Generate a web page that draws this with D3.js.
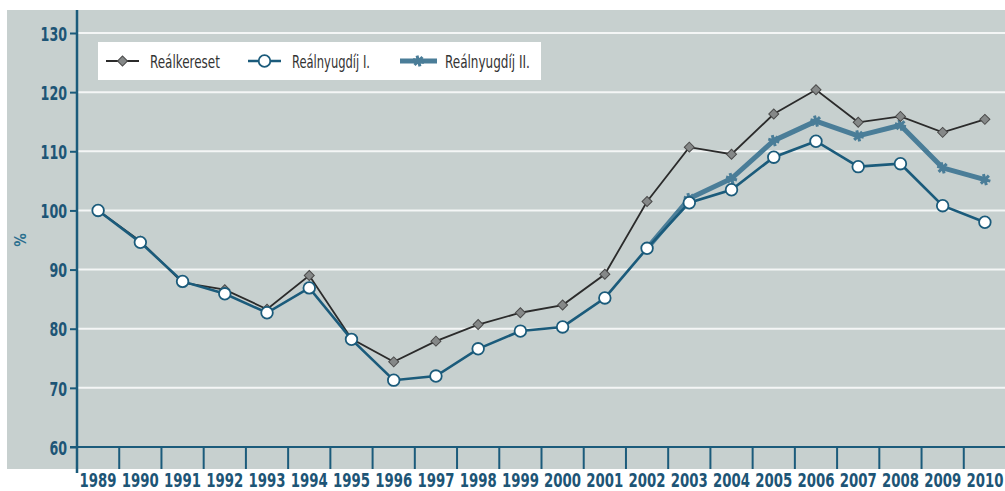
<!DOCTYPE html>
<html><head><meta charset="utf-8">
<script src="https://cdn.jsdelivr.net/npm/d3@7"></script>
<style>
html,body{margin:0;padding:0;background:#fff;}
svg{display:block;}
text{font-family:"DejaVu Sans Condensed","DejaVu Sans",sans-serif;}
</style></head>
<body><svg id="c" width="1005" height="491"></svg>
<script>
const years = ["1989","1990","1991","1992","1993","1994","1995","1996","1997","1998","1999","2000","2001","2002","2003","2004","2005","2006","2007","2008","2009","2010"];
const realkereset = [100,94.8,87.8,86.6,83.3,89.0,78.3,74.4,77.9,80.7,82.7,84.0,89.2,101.5,110.7,109.5,116.3,120.4,114.9,115.9,113.2,115.4];
const realnyugdij1 = [100,94.6,88.0,85.9,82.7,86.9,78.2,71.3,72.0,76.6,79.6,80.3,85.2,93.6,101.3,103.5,109.0,111.7,107.4,107.9,100.8,98.0];
const realnyugdij2Years = ["2002","2003","2004","2005","2006","2007","2008","2009","2010"];
const realnyugdij2 = [93.6,102.0,105.4,111.8,115.1,112.6,114.4,107.2,105.2];
const yTicks = [60,70,80,90,100,110,120,130];
const seriesNames = ["Reálkereset","Reálnyugdíj I.","Reálnyugdíj II."];

const svg = d3.select("#c");
const teal = "#1b5b7b", tealText = "#1d5576", thick = "#4a7d98", dark = "#2b2b2b";

// squeeze a text horizontally to a target width, keeping it anchored
function squeeze(sel, target, tx, ty){
  sel.each(function(d,i){
    const t = d3.select(this);
    const w = this.getComputedTextLength();
    const tw = typeof target === "function" ? target(d,i) : target;
    const s = Math.min(1, tw / w);
    const X = typeof tx === "function" ? tx(d,i) : tx;
    t.attr("x",0).attr("y",0).attr("transform",`translate(${X},${ty}) scale(${s},1)`);
  });
}

svg.append("rect").attr("x",7).attr("y",10).attr("width",998).attr("height",459).attr("fill","#c7d0cf");

const x = d3.scaleBand().domain(years).range([77,1006]).padding(0);
const y = d3.scaleLinear().domain([60,130]).range([447,33]);

// gridlines
svg.append("g").selectAll("line").data(yTicks.filter(d=>d>60)).join("line")
  .attr("x1",78).attr("x2",1005).attr("y1",d=>y(d)).attr("y2",d=>y(d))
  .attr("stroke","#f4f6f6").attr("stroke-width",2);

// y axis
const yAxis = svg.append("g").attr("transform","translate(77,0)")
  .call(d3.axisLeft(y).tickValues(yTicks).tickSize(7).tickPadding(3).tickFormat(d3.format("d")));
yAxis.select(".domain").remove();
yAxis.selectAll(".tick line").attr("stroke",teal).attr("stroke-width",2);
const yt = yAxis.selectAll(".tick text").attr("fill",tealText).attr("font-size",20).attr("font-weight","bold")
  .attr("dy","0.36em");
squeeze(yt, d=>String(d).length*8.8, -10, 0);
svg.append("line").attr("x1",77).attr("x2",77).attr("y1",10).attr("y2",473).attr("stroke",teal).attr("stroke-width",2.5);

// x axis
svg.append("line").attr("x1",70).attr("x2",1005).attr("y1",447).attr("y2",447).attr("stroke",teal).attr("stroke-width",2);
const xAxis = svg.append("g").attr("transform","translate(0,447)")
  .call(d3.axisBottom(x).tickSize(0).tickPadding(0));
xAxis.select(".domain").remove();
const xt = xAxis.selectAll(".tick text").attr("fill",tealText).attr("font-size",19.5).attr("font-weight","bold")
  .attr("dy",0);
squeeze(xt, 37, 0, 39.5);
svg.append("g").selectAll("line").data(years.slice(1)).join("line")
  .attr("x1",d=>x(d)).attr("x2",d=>x(d)).attr("y1",447).attr("y2",469)
  .attr("stroke",teal).attr("stroke-width",2);

// % label
svg.append("text").attr("transform","translate(26,240) rotate(-90)").attr("text-anchor","middle")
  .attr("fill","#2a6f8e").attr("font-size",15).attr("font-weight","bold").text("%");

const cx = d => x(d) + x.bandwidth()/2;
const line = d3.line().x(d=>cx(d[0])).y(d=>y(d[1]));

const d1 = years.map((yr,i)=>[yr,realkereset[i]]);
const d2 = years.map((yr,i)=>[yr,realnyugdij1[i]]);
const d3s = realnyugdij2Years.map((yr,i)=>[yr,realnyugdij2[i]]);

const star = d3.symbol(d3.symbolAsterisk,90);
const diamond = d3.symbol(d3.symbolSquare,50);

// series II
svg.append("path").datum(d3s).attr("d",line).attr("fill","none").attr("stroke",thick).attr("stroke-width",5).attr("stroke-linejoin","round");
svg.append("g").selectAll("path").data(d3s).join("path")
  .attr("transform",d=>`translate(${cx(d[0])},${y(d[1])}) rotate(45)`).attr("d",star)
  .attr("fill","none").attr("stroke",thick).attr("stroke-width",3);

// Reálkereset
svg.append("path").datum(d1).attr("d",line).attr("fill","none").attr("stroke",dark).attr("stroke-width",1.8);
svg.append("g").selectAll("path").data(d1).join("path")
  .attr("transform",d=>`translate(${cx(d[0])},${y(d[1])}) rotate(45)`).attr("d",diamond)
  .attr("fill","#858888").attr("stroke","#4a4a4a").attr("stroke-width",1);

// Reálnyugdíj I
svg.append("path").datum(d2).attr("d",line).attr("fill","none").attr("stroke",teal).attr("stroke-width",2.6);
svg.append("g").selectAll("circle").data(d2).join("circle")
  .attr("cx",d=>cx(d[0])).attr("cy",d=>y(d[1])).attr("r",5.8)
  .attr("fill","#fff").attr("stroke",teal).attr("stroke-width",1.8);

// legend
const lg = svg.append("g");
lg.append("rect").attr("x",98).attr("y",42).attr("width",443).attr("height",38).attr("fill","#fff");
const ly = 61;
lg.append("line").attr("x1",106).attr("x2",139).attr("y1",ly).attr("y2",ly).attr("stroke",dark).attr("stroke-width",1.8);
lg.append("path").attr("transform",`translate(122.5,${ly}) rotate(45)`).attr("d",diamond).attr("fill","#858888").attr("stroke","#4a4a4a");
lg.append("line").attr("x1",248).attr("x2",281).attr("y1",ly).attr("y2",ly).attr("stroke",teal).attr("stroke-width",2.6);
lg.append("circle").attr("cx",264.5).attr("cy",ly).attr("r",5.8).attr("fill","#fff").attr("stroke",teal).attr("stroke-width",1.8);
lg.append("line").attr("x1",400).attr("x2",437).attr("y1",ly).attr("y2",ly).attr("stroke",thick).attr("stroke-width",5);
lg.append("path").attr("transform",`translate(418.5,${ly}) rotate(45)`).attr("d",star).attr("fill","none").attr("stroke",thick).attr("stroke-width",3);
const lx = [150,292,445];
const lw = [70,78,85];
const ltx = lg.selectAll("text").data(seriesNames).join("text")
  .attr("dy","0.36em").attr("font-size",18.5).attr("fill","#333").text(d=>d);
squeeze(ltx, (d,i)=>lw[i], (d,i)=>lx[i], ly);
</script></body></html>
